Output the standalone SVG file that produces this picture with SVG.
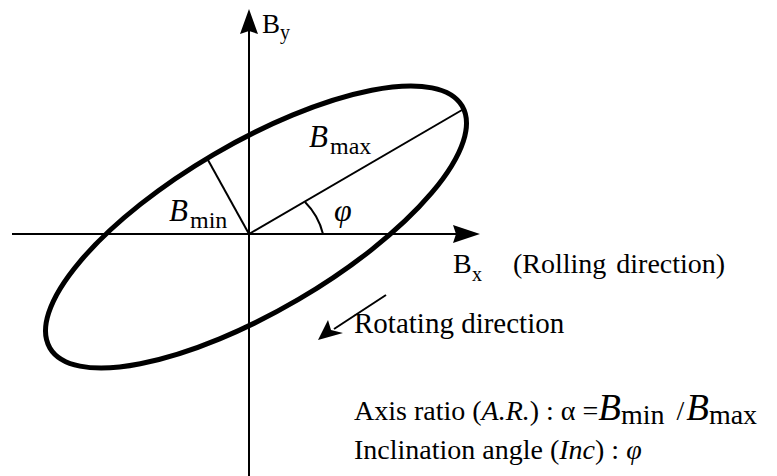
<svg xmlns="http://www.w3.org/2000/svg" width="777" height="476" viewBox="0 0 777 476">
<rect width="777" height="476" fill="#fff"/>
<g id="axes">
<line x1="249" y1="28" x2="249" y2="476" stroke="#000" stroke-width="2"/>
<path d="M249,9 L258,34 L249,31 L240,34 Z" fill="#000"/>
<line x1="12" y1="234" x2="458" y2="234" stroke="#000" stroke-width="2.2"/>
<path d="M480,234 L453,243 L456,234 L453,225 Z" fill="#000"/>
</g>
<g id="ellipse">
<ellipse cx="256" cy="227" rx="239" ry="84" transform="rotate(-30.4 256 227)" fill="none" stroke="#000" stroke-width="5"/>
</g>
<g id="connectors" stroke="#000" fill="none" stroke-width="2">
<line x1="249" y1="234" x2="462" y2="110"/>
<line x1="249" y1="234" x2="208" y2="160"/>
<path d="M305,202 A68,68 0 0 1 323,234"/>
<line x1="386" y1="295" x2="334" y2="329"/>
<path d="M318,340 L328,320 L331,330 L343,333 Z" fill="#000" stroke="none"/>
</g>
<g id="label-by">
<text x="262" y="33" font-size="27" font-family="Liberation Serif">B</text>
<text x="280" y="39" font-size="20" font-family="Liberation Serif">y</text>
</g>
<g id="label-bmax">
<text x="309" y="147" font-size="31" font-style="italic" font-family="Liberation Serif">B</text>
<text x="330" y="154" font-size="24" font-family="Liberation Serif">max</text>
</g>
<g id="label-bmin">
<text x="169" y="221" font-size="31" font-style="italic" font-family="Liberation Serif">B</text>
<text x="190" y="228" font-size="24" font-family="Liberation Serif">min</text>
</g>
<g id="label-phi">
<text x="334" y="221" font-size="32" font-style="italic" font-family="Liberation Serif">φ</text>
</g>
<g id="label-bx">
<text x="453" y="273" font-size="28" font-family="Liberation Serif">B</text>
<text x="472" y="281" font-size="20" font-family="Liberation Serif">x</text>
<text x="513" y="273" font-size="28" word-spacing="3" font-family="Liberation Serif">(Rolling direction)</text>
</g>
<g id="label-rotating">
<text x="354" y="333" font-size="29" font-family="Liberation Serif">Rotating direction</text>
</g>
<g id="label-axis-ratio">
<text x="354" y="420" font-size="28" font-family="Liberation Serif">Axis ratio (<tspan font-style="italic">A.R.</tspan>) : α =<tspan font-style="italic" font-size="37">B</tspan><tspan font-size="28" dy="4">min</tspan><tspan dy="-4" dx="12">/</tspan><tspan font-style="italic" font-size="37" dx="2">B</tspan><tspan font-size="28" dy="4">max</tspan></text>
</g>
<g id="label-inclination">
<text x="354" y="459" font-size="28" font-family="Liberation Serif">Inclination angle (<tspan font-style="italic">Inc</tspan>) :  <tspan font-style="italic">φ</tspan></text>
</g>
</svg>
